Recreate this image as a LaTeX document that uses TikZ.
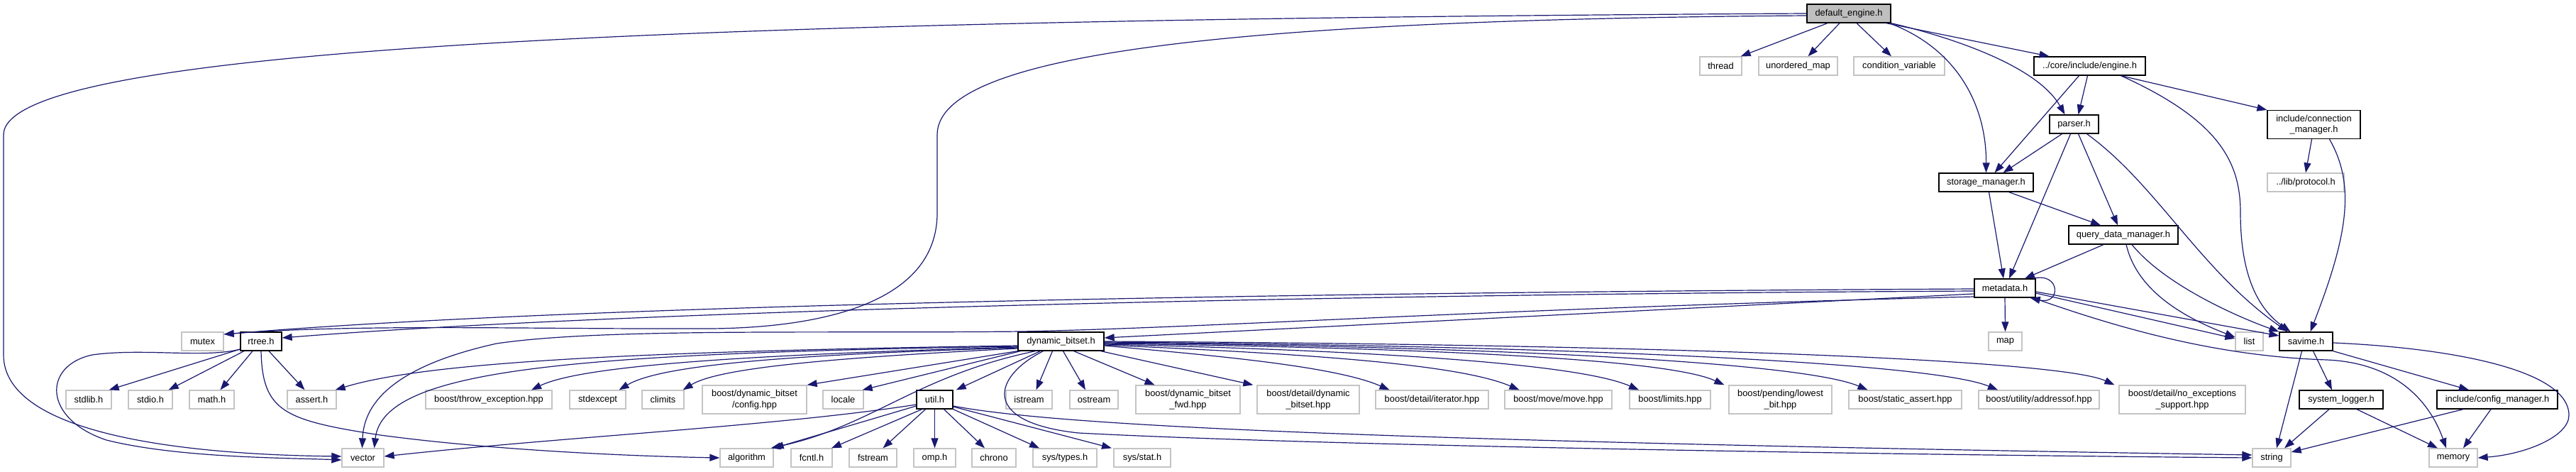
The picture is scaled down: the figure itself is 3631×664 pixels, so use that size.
\documentclass[tikz,border=0pt]{standalone}
\usepackage{fontspec}
\setmainfont{Liberation Sans}
\usetikzlibrary{arrows.meta}
\definecolor{edgeblue}{HTML}{191970}
\definecolor{boxgray}{HTML}{C4C4C4}
\definecolor{fillgray}{HTML}{BFBFBF}
\tikzset{
 nb/.style={draw=black, line width=1.3pt, fill=white, inner sep=0pt, minimum height=26pt, font=\fontsize{12.85}{15.5}\selectfont, align=center},
 ng/.style={nb, draw=boxgray},
 two/.style={minimum height=40pt},
 ed/.style={draw=edgeblue, line width=1.2pt, -{Triangle[length=14pt,width=10pt]}},
}
\begin{document}
\begin{tikzpicture}[x=1pt,y=-1pt]
\useasboundingbox (0,0) rectangle (3631,664);
% row 0-4
\node[nb, fill=fillgray, minimum width=118pt] (de) at (2606,19) {default\_engine.h};
\node[ng, minimum width=59pt] (thread) at (2425.5,93) {thread};
\node[ng, minimum width=111pt] (umap) at (2534.5,93) {unordered\_map};
\node[ng, minimum width=128pt] (cvar) at (2677,93) {condition\_variable};
\node[nb, minimum width=157pt] (engine) at (2945.5,93) {../core/include/engine.h};
\node[nb, minimum width=69pt] (parser) at (2923.5,175) {parser.h};
\node[nb, two, minimum width=131pt] (conn) at (3261.5,175.5) {include/connection\\\_manager.h};
\node[nb, minimum width=133pt] (storage) at (2799.5,257) {storage\_manager.h};
\node[ng, minimum width=108pt] (protocol) at (3250,257) {../lib/protocol.h};
\node[nb, minimum width=154pt] (qdm) at (2993,331) {query\_data\_manager.h};
\node[nb, minimum width=86pt] (metadata) at (2826,406) {metadata.h};
% row 6
\node[ng, minimum width=59pt] (mutex) at (285.5,481) {mutex};
\node[nb, minimum width=58pt] (rtree) at (368,481) {rtree.h};
\node[nb, minimum width=121pt] (dbs) at (1495.5,481) {dynamic\_bitset.h};
\node[ng, minimum width=47pt] (map) at (2826.5,481) {map};
\node[ng, minimum width=39pt] (list) at (3170.5,481) {list};
\node[nb, minimum width=75pt] (savime) at (3250.5,481) {savime.h};
% row 7
\node[ng, minimum width=64pt] (stdlib) at (125,563) {stdlib.h};
\node[ng, minimum width=62pt] (stdio) at (212,563) {stdio.h};
\node[ng, minimum width=63pt] (math) at (298.5,563) {math.h};
\node[ng, minimum width=69pt] (assert) at (439.5,563) {assert.h};
\node[ng, minimum width=178pt] (throw) at (689,563) {boost/throw\_exception.hpp};
\node[ng, minimum width=79pt] (stdexcept) at (842.5,563) {stdexcept};
\node[ng, minimum width=59pt] (climits) at (934.5,563) {climits};
\node[ng, two, minimum width=147pt] (cfghpp) at (1063.5,563) {boost/dynamic\_bitset\\/config.hpp};
\node[ng, minimum width=57pt] (locale) at (1188.5,563) {locale};
\node[nb, minimum width=51pt] (util) at (1317.5,563) {util.h};
\node[ng, minimum width=65pt] (istream) at (1450.5,563) {istream};
\node[ng, minimum width=68pt] (ostream) at (1542,563) {ostream};
\node[ng, two, minimum width=147pt] (fwd) at (1674.5,563) {boost/dynamic\_bitset\\\_fwd.hpp};
\node[ng, two, minimum width=144pt] (detaildyn) at (1844,563) {boost/detail/dynamic\\\_bitset.hpp};
\node[ng, minimum width=159pt] (iterator) at (2018.5,563) {boost/detail/iterator.hpp};
\node[ng, minimum width=151pt] (move) at (2196.5,563) {boost/move/move.hpp};
\node[ng, minimum width=114pt] (limits) at (2354,563) {boost/limits.hpp};
\node[ng, two, minimum width=145pt] (lowest) at (2509.5,563) {boost/pending/lowest\\\_bit.hpp};
\node[ng, minimum width=159pt] (static) at (2685.5,563) {boost/static\_assert.hpp};
\node[ng, minimum width=170pt] (addressof) at (2874,563) {boost/utility/addressof.hpp};
\node[ng, two, minimum width=178pt] (noexc) at (3076,563) {boost/detail/no\_exceptions\\\_support.hpp};
\node[nb, minimum width=118pt] (syslog) at (3300,563) {system\_logger.h};
\node[nb, minimum width=170pt] (confm) at (3520,563) {include/config\_manager.h};
% row 8
\node[ng, minimum width=59pt] (vector) at (511.5,645) {vector};
\node[ng, minimum width=75pt] (algorithm) at (1052.5,645) {algorithm};
\node[ng, minimum width=58pt] (fcntl) at (1144,645) {fcntl.h};
\node[ng, minimum width=67pt] (fstream) at (1230.5,645) {fstream};
\node[ng, minimum width=59pt] (omp) at (1317.5,645) {omp.h};
\node[ng, minimum width=62pt] (chrono) at (1401,645) {chrono};
\node[ng, minimum width=90pt] (systypes) at (1501,645) {sys/types.h};
\node[ng, minimum width=80pt] (sysstat) at (1610,645) {sys/stat.h};
\node[ng, minimum width=54pt] (string) at (3202,645) {string};
\node[ng, minimum width=68pt] (memory) at (3458,645) {memory};

% default_engine.h
\draw[ed] (de.west) .. controls (900,28) and (5,70) .. (5,190) -- (5,500) .. controls (5,605) and (230,640) .. ([yshift=2pt]vector.west);
\draw[ed] ([yshift=-3pt]de.west) .. controls (1700,28) and (1321,80) .. (1321,190) -- (1321,300) .. controls (1321,430) and (1150,462) .. (1000,463) .. controls (750,464) and (500,456) .. ([yshift=10pt]mutex.east);
\draw[ed] ([xshift=-30pt]de.south) -- ([xshift=-2pt]thread.north east);
\draw[ed] ([xshift=-13pt]de.south) -- ([xshift=14pt]umap.north);
\draw[ed] ([xshift=11pt]de.south) -- ([xshift=-11pt]cvar.north);
\draw[ed] ([xshift=-7pt]de.south east) -- ([xshift=-57pt]engine.north);
\draw[ed] (de.south east) .. controls (2740,50) and (2870,90) .. ([xshift=-13pt]parser.north);
\draw[ed] ([yshift=-1pt]de.south east) .. controls (2760,70) and (2800,150) .. (storage.north);
% engine.h
\draw[ed] ([xshift=-3pt]engine.south) -- ([xshift=6pt]parser.north);
\draw[ed] ([xshift=-15pt]engine.south) -- ([xshift=12pt]storage.north);
\draw[ed] ([xshift=44pt]engine.south) -- (conn.north west);
\draw[ed] ([xshift=44pt]engine.south) .. controls (3130,170) and (3158,230) .. (3158,300) .. controls (3158,400) and (3190,440) .. ([xshift=-22pt]savime.north);
% parser.h
\draw[ed] ([xshift=-17pt]parser.south) -- ([xshift=24pt]storage.north);
\draw[ed] ([xshift=-5pt]parser.south) -- ([xshift=6pt]metadata.north);
\draw[ed] ([xshift=6pt]parser.south) -- ([xshift=-8pt]qdm.north);
\draw[ed] ([xshift=18pt]parser.south) .. controls (3040,260) and (3100,380) .. ([xshift=-26pt]savime.north);
% connection_manager
\draw[ed] ([xshift=-3pt]conn.south) -- (protocol.north);
\draw[ed] ([xshift=22pt]conn.south) .. controls (3320,260) and (3310,330) .. ([xshift=6pt]savime.north);
% storage_manager
\draw[ed] ([xshift=4pt]storage.south) -- ([xshift=-2pt]metadata.north);
\draw[ed] ([xshift=32pt]storage.south) -- ([xshift=-32pt]qdm.north);
% query_data_manager
\draw[ed] ([xshift=-28pt]qdm.south) -- ([xshift=28pt]metadata.north);
\draw[ed] ([xshift=4pt]qdm.south) .. controls (3010,400) and (3060,440) .. ([yshift=6pt]list.west);
\draw[ed] ([xshift=12pt]qdm.south) .. controls (3050,400) and (3150,445) .. (savime.north west);
% metadata.h
\draw[ed] ([xshift=-4pt]metadata.north east) .. controls (2905,383) and (2905,430) .. ([xshift=-8pt]metadata.south east);
\draw[ed] (metadata.south) -- (map.north);
\draw[ed] ([yshift=-7pt]metadata.east) -- ([yshift=4pt]list.west);
\draw[ed] ([yshift=-5pt]metadata.east) -- ([yshift=8pt]savime.west);
\draw[ed] ([xshift=-4pt]metadata.south east) .. controls (2980,460) and (3120,502) .. (3280,507) .. controls (3390,512) and (3430,580) .. ([xshift=-10pt]memory.north);
\draw[ed] ([yshift=-1pt]metadata.west) .. controls (1800,412) and (800,430) .. ([yshift=10pt]mutex.east);
\draw[ed] ([yshift=-4pt]metadata.west) .. controls (1800,415) and (850,440) .. ([yshift=5pt]rtree.east);
\draw[ed] ([yshift=-8pt]metadata.west) -- ([yshift=5pt]dbs.east);
\draw[ed] ([yshift=-12pt]metadata.west) .. controls (2100,435) and (1700,462) .. (1440,467) .. controls (1150,470) and (850,462) .. (700,484) .. controls (560,515) and (513,565) .. ([xshift=-1pt]vector.north);
% dynamic_bitset.h
\draw[ed] ([yshift=-6pt]dbs.west) .. controls (900,495) and (600,510) .. ([xshift=-2pt]assert.north east);
\draw[ed] ([yshift=-8pt]dbs.west) .. controls (1050,500) and (820,515) .. ([xshift=60pt]throw.north);
\draw[ed] ([yshift=-9pt]dbs.west) .. controls (1100,500) and (930,515) .. ([xshift=30pt]stdexcept.north);
\draw[ed] ([yshift=-10pt]dbs.west) .. controls (1150,505) and (1010,520) .. ([xshift=-2pt]climits.north east);
\draw[ed] ([yshift=-7pt]dbs.west) .. controls (800,498) and (540,520) .. ([xshift=16pt]vector.north);
\draw[ed] (dbs.south west) -- (cfghpp.north east);
\draw[ed] ([xshift=4pt]dbs.south west) -- ([xshift=-2pt]locale.north east);
\draw[ed] ([xshift=25pt]dbs.south west) .. controls (1290,530) and (1230,600) .. ([xshift=-4pt]algorithm.north east);
\draw[ed] ([xshift=32pt]dbs.south west) -- ([xshift=4pt]util.north east);
\draw[ed] ([xshift=-12pt]dbs.south) -- ([xshift=10pt]istream.north);
\draw[ed] ([xshift=3pt]dbs.south) -- ([xshift=-12pt]ostream.north);
\draw[ed] ([xshift=18pt]dbs.south) -- ([xshift=-47pt]fwd.north);
\draw[ed] ([xshift=-5pt]dbs.south east) -- ([xshift=-5pt]detaildyn.north west);
\draw[ed] ([yshift=-6pt]dbs.east) .. controls (1700,500) and (1880,515) .. ([xshift=-60pt]iterator.north);
\draw[ed] ([yshift=-5pt]dbs.east) .. controls (1800,497) and (2050,510) .. ([xshift=-55pt]move.north);
\draw[ed] ([yshift=-4pt]dbs.east) .. controls (1900,493) and (2220,510) .. ([xshift=-44pt]limits.north);
\draw[ed] ([yshift=-3pt]dbs.east) .. controls (2000,490) and (2350,505) .. ([xshift=-6pt]lowest.north west);
\draw[ed] ([yshift=-2pt]dbs.east) .. controls (2100,488) and (2540,510) .. ([xshift=-53pt]static.north);
\draw[ed] ([yshift=-1pt]dbs.east) .. controls (2200,487) and (2720,510) .. ([xshift=-58pt]addressof.north);
\draw[ed] (dbs.east) .. controls (2300,485) and (2900,505) .. ([xshift=-6pt]noexc.north west);
\draw[ed] ([xshift=-25pt]dbs.south) .. controls (1400,530) and (1380,595) .. (1520,610) .. controls (1900,630) and (2800,642) .. (string.west);
% util.h
\draw[ed] ([yshift=-7pt]util.west) .. controls (1100,600) and (800,615) .. ([yshift=2pt]vector.east);
\draw[ed] ([yshift=-9pt]util.west) -- (algorithm.north east);
\draw[ed] ([xshift=-18pt]util.south) -- ([xshift=28pt]fcntl.north);
\draw[ed] ([xshift=-13pt]util.south) -- ([xshift=14pt]fstream.north);
\draw[ed] (util.south) -- (omp.north);
\draw[ed] ([xshift=13pt]util.south) -- ([xshift=-13pt]chrono.north);
\draw[ed] (util.south east) -- ([xshift=-36pt]systypes.north);
\draw[ed] ([yshift=-10pt]util.east) -- ([xshift=-43pt]sysstat.north);
\draw[ed] ([yshift=-9pt]util.east) .. controls (1500,602) and (2000,622) .. ([yshift=4pt]string.west);
% rtree.h
\draw[ed] ([yshift=-11pt]rtree.west) .. controls (290,505) and (200,490) .. (130,500) .. controls (60,515) and (60,590) .. (150,620) .. controls (250,645) and (400,645) .. ([yshift=-3pt]vector.west);
\draw[ed] ([yshift=-11pt]rtree.west) -- ([xshift=-4pt]stdlib.north east);
\draw[ed] ([xshift=-24pt]rtree.south) -- ([xshift=-6pt]stdio.north east);
\draw[ed] ([xshift=-12pt]rtree.south) -- ([xshift=12pt]math.north);
\draw[ed] ([xshift=11pt]rtree.south) -- ([xshift=-10pt]assert.north);
\draw[ed] (rtree.south) .. controls (370,580) and (400,592) .. (536,613) .. controls (700,635) and (900,643) .. (algorithm.west);
% savime.h
\draw[ed] ([xshift=-6pt]savime.south) -- ([xshift=7pt]string.north);
\draw[ed] ([xshift=10pt]savime.south) -- ([xshift=-13pt]syslog.north);
\draw[ed] (savime.south east) -- ([xshift=-40pt]confm.north);
\draw[ed] ([yshift=-2pt]savime.east) .. controls (3450,490) and (3621,520) .. (3621,585) .. controls (3621,615) and (3560,640) .. (memory.east);
% system_logger.h
\draw[ed] ([xshift=-17pt]syslog.south) -- ([xshift=18pt]string.north);
\draw[ed] ([xshift=22pt]syslog.south) -- ([xshift=-22pt]memory.north);
% config_manager.h
\draw[ed] ([xshift=-48pt]confm.south) -- ([yshift=8pt]string.east);
\draw[ed] ([xshift=-9pt]confm.south) -- ([xshift=14pt]memory.north);
\end{tikzpicture}
\end{document}
